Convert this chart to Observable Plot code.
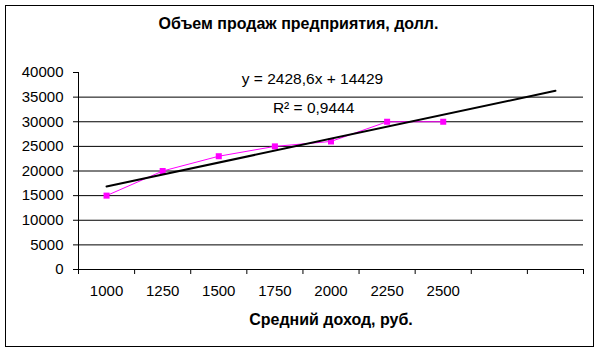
<!DOCTYPE html>
<html>
<head>
<meta charset="utf-8">
<script src="https://cdn.jsdelivr.net/npm/d3@7"></script>
<script src="https://cdn.jsdelivr.net/npm/@observablehq/plot@0.6"></script>
<style>
  body { margin: 0; background: #fff; font-family: "Liberation Sans", Arial, sans-serif; }
  #wrap { position: relative; width: 599px; height: 351px; }
  #border { position: absolute; left: 5px; top: 5px; width: 587px; height: 340px; border: 1px solid #000; pointer-events: none; }
  #title { height: 44px; box-sizing: border-box; padding-top: 15px; line-height: 18px; font-size: 16px; font-weight: bold; text-align: center; color: #000; padding-right: 2px; }
  svg { display: block; }
</style>
</head>
<body>
<div id="wrap">
  <div id="title">Объем продаж предприятия, долл.</div>
  <div id="chart"></div>
  <div id="border"></div>
</div>
<script>
const categories = ["1000", "1250", "1500", "1750", "2000", "2250", "2500"];
const sales = [15000, 20000, 23000, 25000, 26000, 30000, 30000];
const yTicks = [0, 5000, 10000, 15000, 20000, 25000, 30000, 35000, 40000];
const forecastPeriods = 2;
const xTitle = "Средний доход, руб.";
const eqLabel = "y = 2428,6x + 14429";
const r2Label = "R² = 0,9444";
const eqPos = {x: 4.67, y: 37766};
const r2Pos = {x: 4.69, y: 31800};

const data = sales.map((v, i) => ({i: i + 1, cat: categories[i], v}));
const mx = d3.mean(data, d => d.i), my = d3.mean(data, d => d.v);
const slope = d3.sum(data, d => (d.i - mx) * (d.v - my)) / d3.sum(data, d => (d.i - mx) ** 2);
const intercept = my - slope * mx;
const nSlots = data.length + forecastPeriods;
const trend = [1, nSlots].map(i => ({i, v: intercept + slope * i}));
const bounds = d3.range(0, nSlots + 1).map(k => k + 0.5);

const chart = Plot.plot({
  width: 599, height: 307,
  marginLeft: 78, marginRight: 16, marginTop: 28, marginBottom: 82,
  style: {fontFamily: '"Liberation Sans", Arial, sans-serif', fontSize: "15px", color: "#000", background: "transparent"},
  x: {type: "linear", domain: [0.5, nSlots + 0.5]},
  y: {domain: [0, 40000]},
  marks: [
    Plot.ruleY(yTicks.filter(t => t > 0 && t < 40000), {stroke: "#000"}),
    Plot.axisY(yTicks, {tickSize: 5, tickPadding: 10, tickFormat: d3.format("d"), label: null, stroke: "#000"}),
    Plot.ruleX([0.5], {y1: 0, y2: 40000, stroke: "#000"}),
    Plot.ruleY([0], {stroke: "#000"}),
    Plot.axisX(bounds, {tickSize: 5, tickFormat: () => "", label: null, stroke: "#000"}),
    Plot.axisX(data.map(d => d.i), {tickSize: 0, tickPadding: 16, tickFormat: i => categories[i - 1], label: null}),
    Plot.line(data, {x: "i", y: "v", stroke: "#ff00ff", strokeWidth: 1}),
    Plot.dot(data, {x: "i", y: "v", symbol: "square", r: 3.4, fill: "#ff00ff", stroke: null}),
    Plot.line(trend, {x: "i", y: "v", stroke: "#000", strokeWidth: 2}),
    Plot.text([eqLabel], {x: eqPos.x, y: eqPos.y, text: d => d, lineAnchor: "bottom", fontSize: 15.5, fill: "#000"}),
    Plot.text([r2Label], {x: r2Pos.x, y: r2Pos.y, text: d => d, lineAnchor: "bottom", fontSize: 15.5, fill: "#000"}),
    Plot.text([xTitle], {frameAnchor: "bottom", dy: 55, text: d => d, lineAnchor: "bottom", fontWeight: "bold", fontSize: 16, fill: "#000"})
  ]
});
document.getElementById("chart").appendChild(chart);
</script>
</body>
</html>
